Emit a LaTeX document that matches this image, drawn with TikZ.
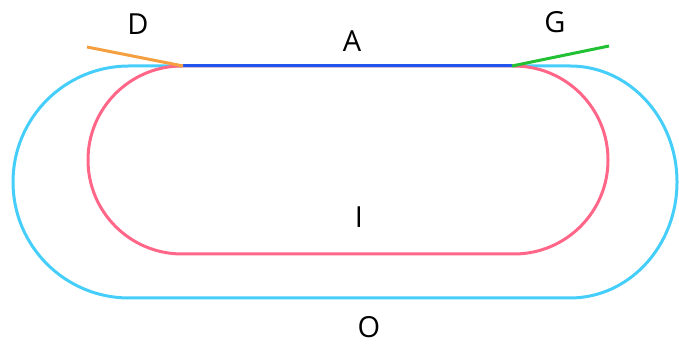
\documentclass[tikz,border=0pt]{standalone}
\usepackage{fontspec}
\setmainfont{Open Sans}
\definecolor{cyanline}{RGB}{70,206,250}
\definecolor{pinkline}{RGB}{255,102,136}
\definecolor{blueline}{RGB}{34,85,238}
\definecolor{orangeline}{RGB}{245,160,64}
\definecolor{greenline}{RGB}{34,192,51}
\begin{document}
\begin{tikzpicture}[x=1pt,y=1pt,
  track/.style={line width=3pt},
  lbl/.style={inner sep=0pt,font=\fontsize{29}{31}\selectfont}]
\useasboundingbox (0,0) rectangle (679,344);
\coordinate (ot) at (129,278);
\coordinate (or) at (570,278);
\coordinate (ob) at (129,46);
\coordinate (it) at (182,278);
\coordinate (ir) at (514,278);
\coordinate (ib) at (182,90);
\coordinate (bl) at (183,278);
\coordinate (br) at (512,278);
\coordinate (oe) at (87,297);
\coordinate (ge) at (609,298);
\draw[track,cyanline] (ot) -- (or) arc[start angle=90,end angle=-90,x radius=107,y radius=116] -- (ob) arc[start angle=270,end angle=90,radius=116] -- cycle;
\draw[track,pinkline] (it) -- (ir) arc[start angle=90,end angle=-90,radius=94] -- (ib) arc[start angle=270,end angle=90,radius=94] -- cycle;
\draw[track,blueline] (bl) -- (br);
\draw[track,orangeline] (oe) -- (bl);
\draw[track,greenline] (br) -- (ge);
\node[lbl] (A) at (352,303) {A};
\node[lbl] (D) at (138,320) {D};
\node[lbl] (G) at (555,322) {G};
\node[lbl] (I) at (359,127) {I};
\node[lbl] (O) at (369,17) {O};
\end{tikzpicture}
\end{document}
